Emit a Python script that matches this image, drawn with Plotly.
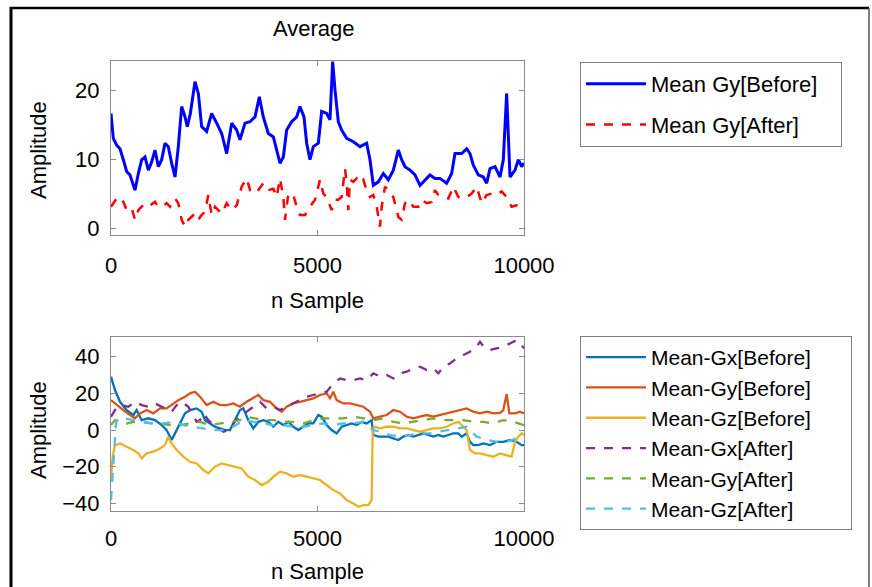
import plotly.graph_objects as go

# ---------------- data: top panel ----------------
gy_before_x = [0, 56, 137, 218, 299, 379, 460, 541, 581, 662, 743, 823, 904, 985, 1065, 1146, 1227, 1307,
               1388, 1469, 1550, 1630, 1711, 1792, 1848, 1921, 2034, 2115, 2195, 2316, 2437, 2559, 2680,
               2801, 2922, 3043, 3123, 3245, 3366, 3487, 3592, 3688, 3809, 3931, 4011, 4092, 4173, 4253,
               4374, 4496, 4576, 4673, 4738, 4818, 4899, 5020, 5101, 5222, 5303, 5367, 5424, 5504, 5585,
               5706, 5868, 6029, 6190, 6271, 6352, 6473, 6594, 6715, 6836, 6957, 7038, 7119, 7240, 7361,
               7482, 7603, 7724, 7845, 7966, 8127, 8248, 8329, 8491, 8612, 8692, 8773, 8894, 9015, 9096,
               9177, 9298, 9419, 9499, 9580, 9661, 9782, 9863, 9943, 10000]
gy_before_y = [16.6, 13.0, 12.0, 11.5, 9.9, 8.2, 7.7, 6.0, 5.5, 7.9, 9.9, 10.3, 8.4, 9.6, 11.3, 8.9, 9.9, 12.3,
               11.8, 9.4, 7.4, 11.8, 17.6, 16.1, 14.7, 16.6, 21.2, 19.5, 14.7, 14.0, 16.6, 15.2, 13.7,
               10.8, 15.2, 14.2, 12.8, 15.2, 15.4, 16.1, 19.0, 16.1, 13.7, 13.2, 11.3, 9.4, 10.3, 14.2,
               15.4, 16.1, 17.6, 16.1, 12.3, 9.9, 11.8, 12.3, 16.9, 16.6, 15.7, 24.1, 20.0, 15.4, 14.2,
               13.0, 12.5, 11.8, 12.3, 9.9, 6.2, 6.7, 7.9, 7.0, 8.4, 11.3, 9.9, 8.9, 8.4, 7.7,
               6.2, 7.0, 7.7, 7.2, 7.2, 6.5, 7.9, 10.8, 10.8, 11.5, 10.8, 9.1, 7.7, 7.4, 6.5,
               8.6, 8.9, 7.4, 9.9, 19.5, 7.4, 8.4, 9.9, 8.9, 9.4]

gy_after_x = [0, 137, 218, 299, 379, 500, 581, 662, 743, 823, 944, 1065, 1146, 1227, 1348, 1429, 1550, 1630,
              1711, 1792, 1872, 1953, 2034, 2115, 2195, 2276, 2357, 2437, 2518, 2599, 2680, 2801, 2922,
              3043, 3164, 3285, 3366, 3446, 3567, 3688, 3809, 3931, 4011, 4092, 4173, 4213, 4294, 4415,
              4496, 4576, 4697, 4818, 4939, 5061, 5141, 5222, 5343, 5424, 5504, 5585, 5666, 5706, 5747,
              5787, 5868, 5948, 6029, 6110, 6190, 6271, 6352, 6433, 6513, 6554, 6634, 6755, 6836, 6957,
              7038, 7119, 7199, 7320, 7441, 7522, 7643, 7764, 7845, 7926, 8047, 8168, 8289, 8410, 8531,
              8612, 8733, 8854, 8975, 9096, 9217, 9338, 9459, 9580, 9701, 9822, 9943, 10000]
gy_after_y = [3.1, 4.3, 4.5, 3.8, 2.6, 2.9, 1.2, 2.6, 3.1, 3.6, 3.3, 3.8, 3.1, 3.1, 3.6, 3.1, 4.3, 3.6,
              1.2, 0.2, 1.2, 1.6, 2.1, 1.2, 1.9, 2.4, 4.8, 1.9, 3.1, 2.6, 2.1, 3.6, 2.6,
              3.3, 6.0, 7.2, 5.5, 5.0, 5.5, 6.5, 5.5, 5.7, 4.5, 7.2, 4.5, 1.2, 5.0, 4.8,
              3.1, 1.9, 1.9, 3.1, 4.1, 7.0, 5.0, 4.5, 2.6, 4.1, 4.1, 4.5, 8.6, 6.5, 2.6,
              7.0, 6.7, 7.2, 6.5, 7.0, 5.5, 4.5, 4.8, 3.1, 0.2, 3.1, 6.0, 5.3, 4.5, 1.6,
              1.2, 3.6, 4.1, 3.1, 3.1, 4.1, 3.6, 3.8, 5.5, 4.8, 4.5, 4.3, 6.0, 4.5, 4.3,
              4.5, 5.0, 6.0, 3.6, 4.8, 5.0, 4.8, 5.3, 4.5, 3.1, 3.3, 3.1, 2.6]

# ---------------- data: bottom panel ----------------
gx_b_x = [0, 97, 218, 379, 541, 621, 743, 904, 1065, 1227, 1348, 1469, 1550, 1671, 1792, 1913, 2074, 2195,
          2276, 2397, 2518, 2639, 2760, 2881, 3002, 3123, 3204, 3325, 3446, 3567, 3688, 3809, 3931, 4052,
          4173, 4294, 4415, 4536, 4657, 4778, 4899, 5020, 5101, 5222, 5343, 5464, 5585, 5706, 5827, 5948,
          6069, 6190, 6311, 6352, 6473, 6594, 6715, 6836, 6957, 7078, 7199, 7320, 7441, 7562, 7683, 7805,
          7926, 8047, 8168, 8289, 8410, 8491, 8612, 8692, 8773, 8894, 9015, 9177, 9338, 9499, 9661, 9822,
          9943, 10000]
gx_b_y = [29.1, 21.8, 15.4, 10.9, 8.2, 10.9, 5.4, 6.4, 5.4, 2.7, 0.0, -5.4, -1.8, 3.6, 9.1, 10.9, 11.8, 10.0,
          5.4, 3.6, 1.8, 0.9, 0.0, 0.0, 5.4, 10.9, 11.8, 5.4, 0.9, 4.5, 5.4, 4.5, 1.8, 4.5,
          2.7, 4.5, 1.8, 0.0, 1.8, 3.6, 3.6, 8.2, 7.3, 2.7, 0.0, -1.8, 1.8, 2.7, 3.6, 2.7,
          4.5, 3.6, 5.4, -2.7, -3.6, -3.6, -3.6, -4.5, -5.4, -3.6, -2.7, -3.6, -2.7, -1.8, -2.7, -3.6,
          -2.7, -3.6, -2.7, -1.8, -1.8, -3.6, -1.8, -6.4, -8.2, -8.2, -7.3, -8.2, -6.4, -6.4, -5.4, -6.4,
          -8.2, -8.2]

gy_b_x = [0, 137, 299, 460, 581, 702, 864, 1025, 1186, 1348, 1469, 1630, 1792, 1913, 2034, 2155, 2316, 2478,
          2639, 2801, 2962, 3123, 3285, 3446, 3567, 3688, 3850, 4011, 4132, 4253, 4415, 4576, 4738, 4899,
          5061, 5222, 5303, 5383, 5464, 5625, 5787, 5948, 6110, 6271, 6352, 6513, 6675, 6836, 6998, 7159,
          7320, 7482, 7643, 7805, 7966, 8127, 8289, 8450, 8612, 8773, 8934, 9096, 9257, 9419, 9499, 9580,
          9645, 9782, 9903, 10000]
gy_b_y = [16.3, 13.6, 10.9, 8.2, 6.4, 9.1, 10.9, 9.1, 11.8, 11.8, 13.6, 16.3, 18.2, 20.0, 20.9, 18.2, 13.6, 15.4,
          13.6, 13.6, 14.5, 12.7, 15.4, 17.3, 19.1, 16.3, 15.4, 11.8, 10.0, 12.7, 14.5, 15.4, 16.3, 17.3,
          19.1, 20.0, 17.3, 20.9, 16.3, 14.5, 14.5, 13.6, 12.7, 10.0, 6.4, 7.3, 8.2, 10.9, 10.0, 7.3,
          6.4, 7.3, 8.2, 7.3, 8.2, 9.1, 10.0, 10.9, 11.8, 10.0, 9.1, 10.0, 9.1, 9.4, 10.9, 19.6,
          9.1, 9.1, 10.0, 9.1]

gz_b_x = [0, 40, 97, 218, 379, 541, 662, 743, 864, 1025, 1186, 1307, 1388, 1469, 1590, 1751, 1913, 2074,
          2236, 2357, 2518, 2680, 2841, 3002, 3164, 3325, 3487, 3648, 3809, 3931, 4092, 4253, 4415, 4576,
          4738, 4899, 5061, 5222, 5383, 5545, 5706, 5868, 5989, 6110, 6231, 6311, 6336, 6368, 6513, 6675,
          6836, 6998, 7159, 7320, 7482, 7643, 7805, 7966, 8127, 8289, 8410, 8531, 8612, 8692, 8813, 8934,
          9096, 9257, 9419, 9580, 9701, 9782, 9863, 9943, 10000]
gz_b_y = [-27.2, -14.5, -8.2, -7.3, -9.1, -10.9, -12.7, -15.4, -12.7, -11.8, -10.0, -8.2, -3.6, -7.3, -10.9,
          -14.5, -17.3, -18.2, -21.8, -23.6, -20.0, -18.2, -19.1, -20.0, -20.9, -25.4, -27.2, -30.0, -28.2,
          -25.4, -22.7, -23.6, -25.4, -24.5, -25.4, -26.3, -27.2, -30.0, -32.7, -34.5, -38.1, -40.0, -41.8,
          -40.9, -40.9, -38.1, 0.0, 1.8, 0.9, 1.8, 1.8, 0.9, 0.9, 0.0, -0.9, 0.0, 0.9, 0.9, 1.8, 3.6,
          4.5, 1.8, 0.0, -10.9, -12.7, -12.7, -13.6, -14.5, -12.7, -13.6, -14.5, -6.4, -3.6, -1.8, -2.7]

gx_a_x = [0, 97, 258, 420, 581, 743, 904, 1065, 1227, 1388, 1469, 1590, 1711, 1872, 1994, 2074, 2155, 2236,
          2357, 2478, 2599, 2720, 2841, 2962, 3123, 3285, 3446, 3608, 3769, 3931, 4092, 4253, 4415, 4576,
          4738, 4899, 5061, 5222, 5383, 5545, 5706, 5868, 6029, 6190, 6352, 6513, 6675, 6836, 6998, 7159,
          7320, 7482, 7643, 7805, 7926, 8047, 8208, 8370, 8531, 8692, 8854, 8934, 9055, 9177, 9338, 9499,
          9661, 9822, 9943, 10000]
gx_a_y = [7.3, 10.9, 13.6, 12.7, 15.4, 13.6, 12.7, 14.5, 12.7, 10.9, 10.0, 13.6, 15.4, 12.7, 8.2, 4.5, 5.4, 9.1,
          5.4, 2.7, 0.9, -0.9, 0.0, 3.6, 7.3, 10.0, 12.7, 15.4, 11.8, 12.7, 10.9, 12.7, 14.5, 16.3,
          18.2, 19.1, 20.0, 20.9, 25.4, 28.1, 27.2, 27.2, 28.1, 27.2, 30.9, 29.1, 30.0, 28.1, 30.9, 31.8,
          33.6, 34.5, 32.7, 33.6, 30.9, 34.5, 36.3, 39.1, 40.9, 42.7, 45.4, 48.1, 44.5, 43.6, 44.5, 45.4,
          47.2, 49.0, 46.3, 44.5]

gy_a_x = [0, 97, 218, 379, 541, 702, 944, 1186, 1429, 1671, 1913, 2155, 2397, 2639, 2881, 3123, 3285, 3446,
          3688, 3931, 4173, 4415, 4657, 4899, 5141, 5383, 5625, 5868, 6110, 6352, 6594, 6836, 7078, 7320,
          7562, 7805, 8047, 8289, 8531, 8773, 9015, 9257, 9499, 9741, 10000]
gy_a_y = [2.7, 5.4, 4.5, 3.6, 4.5, 4.5, 3.6, 3.6, 2.7, 2.7, 3.6, 4.5, 2.7, 3.6, 4.5, 5.4, 7.3, 6.4,
          5.4, 5.4, 4.5, 4.5, 3.6, 5.4, 6.4, 6.4, 6.4, 7.3, 6.4, 5.4, 6.4, 4.5, 3.6, 4.5,
          5.4, 6.4, 5.4, 5.4, 5.4, 4.5, 4.5, 3.6, 5.4, 4.5, 2.7]

gz_a_x = [0, 40, 73, 121, 178, 339, 541, 783, 1025, 1267, 1509, 1751, 1994, 2236, 2478, 2720, 2962, 3204,
          3446, 3688, 3931, 4173, 4415, 4657, 4899, 5141, 5383, 5625, 5868, 6110, 6352, 6513, 6755, 6998,
          7240, 7482, 7724, 7966, 8208, 8450, 8612, 8733, 8854, 9096, 9338, 9580, 9822, 10000]
gz_a_y = [-38.1, -25.4, -12.7, 3.6, 6.4, 6.4, 5.4, 4.5, 3.6, 3.6, 4.5, 2.7, 1.8, 0.9, 0.0, 0.0, 1.8, 5.4,
          4.5, 3.6, 2.7, 2.7, 1.8, 1.8, 2.7, 3.6, 2.7, 3.6, 3.6, 4.5, 0.0, -0.9, -2.7, -3.6,
          -2.7, -1.8, -1.8, -0.9, 0.0, 0.9, 1.8, -0.9, -3.6, -5.4, -6.4, -6.4, -4.5, -3.6]

x_ticks = [0, 5000, 10000]
x_tick_labels = ["0", "5000", "10000"]
top_y_ticks = [0, 10, 20]
bot_y_ticks = [-40, -20, 0, 20, 40]

FONT = "Liberation Sans, Arial, sans-serif"
FS = 22
FS_LEG2 = 21
AXC = "#8c8c8c"
PAD1 = "\u00a0" * 3   # invisible padding so the legend boxes are as wide as the reference
PAD2 = "\u00a0" * 6

fig = go.Figure()

# top panel
fig.add_trace(go.Scatter(x=gy_before_x, y=gy_before_y, mode="lines", name="Mean Gy[Before]" + PAD1,
                         line=dict(color="#0000ff", width=3), xaxis="x", yaxis="y",
                         legend="legend", legendgroup="a"))
fig.add_trace(go.Scatter(x=gy_after_x, y=gy_after_y, mode="lines", name="Mean Gy[After]" + PAD1,
                         line=dict(color="#ff0000", width=2.5, dash="dash"), xaxis="x", yaxis="y",
                         legend="legend", legendgroup="b"))

# bottom panel
bottom = [
    (gx_b_x, gx_b_y, "Mean-Gx[Before]", "#0072BD", "solid"),
    (gy_b_x, gy_b_y, "Mean-Gy[Before]", "#D95319", "solid"),
    (gz_b_x, gz_b_y, "Mean-Gz[Before]", "#EDB120", "solid"),
    (gx_a_x, gx_a_y, "Mean-Gx[After]", "#7E2F8E", "dash"),
    (gy_a_x, gy_a_y, "Mean-Gy[After]", "#77AC30", "dash"),
    (gz_a_x, gz_a_y, "Mean-Gz[After]", "#4DBEEE", "dash"),
]
for xs, ys, nm, col, dash in bottom:
    fig.add_trace(go.Scatter(x=xs, y=ys, mode="lines", name=nm + PAD2,
                             line=dict(color=col, width=2.3, dash=dash),
                             xaxis="x2", yaxis="y2", legend="legend2"))

W, H = 872, 587
def px_x(p):
    return p / W
def px_y(p):
    return 1 - p / H

axis_common = dict(showgrid=False, zeroline=False, showline=True, linecolor=AXC, linewidth=1,
                   mirror="ticks", ticks="inside", ticklen=5, tickcolor=AXC, automargin=False,
                   tickfont=dict(family=FONT, size=FS, color="black"))

fig.update_layout(
    template="none",
    width=W, height=H,
    margin=dict(l=0, r=0, t=0, b=0, pad=0, autoexpand=False),
    paper_bgcolor="white", plot_bgcolor="white",
    font=dict(family=FONT, size=FS, color="black"),
    hovermode=False,
    xaxis=dict(domain=[px_x(111), px_x(524)], range=[0, 10000], tickvals=x_ticks, ticktext=x_tick_labels,
               anchor="y", ticklabelstandoff=11, **axis_common),
    yaxis=dict(domain=[px_y(235), px_y(61)], range=[-1, 24.2], tickvals=top_y_ticks,
               anchor="x", ticklabelstandoff=6, **axis_common),
    xaxis2=dict(domain=[px_x(111), px_x(524)], range=[0, 10000], tickvals=x_ticks, ticktext=x_tick_labels,
                anchor="y2", ticklabelstandoff=8, **axis_common),
    yaxis2=dict(domain=[px_y(511), px_y(337)], range=[-44.1, 50.7], tickvals=bot_y_ticks,
                anchor="x2", ticklabelstandoff=6, **axis_common),
    legend=dict(x=px_x(580), y=px_y(62), xanchor="left", yanchor="top",
                bordercolor="#7f7f7f", borderwidth=1, bgcolor="white",
                itemwidth=60, tracegroupgap=9, font=dict(family=FONT, size=FS),
                traceorder="grouped"),
    legend2=dict(x=px_x(580), y=px_y(336), xanchor="left", yanchor="top",
                 bordercolor="#7f7f7f", borderwidth=1, bgcolor="white",
                 itemwidth=60, font=dict(family=FONT, size=FS_LEG2), traceorder="normal"),
    showlegend=True,
)

ann = [
    dict(text="Average", x=px_x(314), y=px_y(28)),
    dict(text="n Sample", x=px_x(317), y=px_y(300)),
    dict(text="n Sample", x=px_x(317), y=px_y(571)),
    dict(text="Amplitude", x=px_x(38), y=px_y(150), textangle=-90),
    dict(text="Amplitude", x=px_x(38), y=px_y(430), textangle=-90),
]
for a in ann:
    fig.add_annotation(xref="paper", yref="paper", showarrow=False,
                       xanchor="center", yanchor="middle",
                       font=dict(family=FONT, size=FS, color="black"), **a)

# outer frame
fig.add_shape(type="line", xref="paper", yref="paper", x0=px_x(11), x1=px_x(11),
              y0=0, y1=px_y(7), line=dict(color="black", width=3))
fig.add_shape(type="line", xref="paper", yref="paper", x0=px_x(10), x1=px_x(869),
              y0=px_y(8), y1=px_y(8), line=dict(color="black", width=2.5))
fig.add_shape(type="line", xref="paper", yref="paper", x0=px_x(869), x1=px_x(869),
              y0=0, y1=px_y(8), line=dict(color="#555555", width=1.5))

fig.write_html("out.html", config={"displayModeBar": False, "staticPlot": True},
               post_script="document.body.style.margin='0px';document.body.style.overflow='hidden';")
